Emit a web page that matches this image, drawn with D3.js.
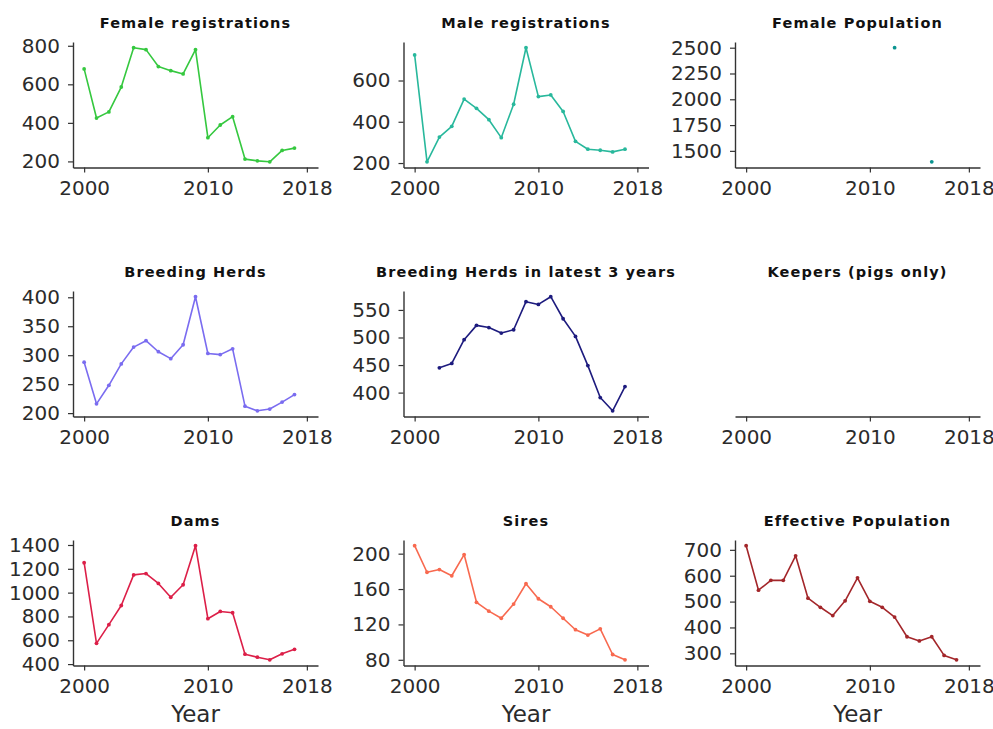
<!DOCTYPE html>
<html>
<head>
<meta charset="utf-8">
<script src="https://cdn.jsdelivr.net/npm/d3@7"></script>
<style>
  body { margin: 0; background: #fff; }
  .tick text { font-family: "DejaVu Sans", sans-serif; font-size: 20px; fill: #2b2b2b; }
  .panel-title { font-family: "DejaVu Sans", sans-serif; font-weight: bold; font-size: 14.5px; letter-spacing: 1.1px; fill: #111; }
  .x-label { font-family: "DejaVu Sans", sans-serif; font-size: 23px; fill: #2b2b2b; }
</style>
</head>
<body>
<svg id="chart" width="993" height="729"></svg>
<script>
const years = d3.range(2000, 2018);

const femaleRegistrations = [680, 425, 457, 586, 790, 780, 692, 671, 654, 780, 323, 389, 432, 212, 203, 198, 257, 269];
const maleRegistrations = [724, 206, 326, 378, 510, 465, 410, 323, 485, 759, 522, 530, 450, 305, 267, 262, 254, 267];
const femalePopulation = [null, null, null, null, null, null, null, null, null, null, null, null, 2500, null, null, 1394, null, null];
const breedingHerds = [288, 216, 248, 285, 314, 325, 306, 294, 318, 401, 303, 301, 311, 212, 204, 207, 219, 232];
const breedingHerdsLatest3 = [null, null, 445, 453, 496, 522, 518, 508, 514, 565, 560, 574, 534, 502, 449, 391, 367, 411];
const keepers = years.map(() => null);
const dams = [1251, 574, 731, 892, 1149, 1160, 1077, 961, 1066, 1394, 781, 842, 831, 483, 458, 436, 486, 524];
const sires = [209, 179, 182, 175, 199, 145, 135, 127, 143, 166, 149, 140, 127, 114, 108, 115, 86, 80];
const effectivePopulation = [716, 544, 582, 582, 677, 513, 478, 446, 503, 592, 501, 478, 440, 364, 348, 364, 292, 275];

const xTicks = [2000, 2010, 2018];

const panels = [
  { title: 'Female registrations', values: femaleRegistrations, color: '#35c83f', yTicks: [200, 400, 600, 800] },
  { title: 'Male registrations', values: maleRegistrations, color: '#28b89c', yTicks: [200, 400, 600] },
  { title: 'Female Population', values: femalePopulation, color: '#0a9490', yTicks: [1500, 1750, 2000, 2250, 2500] },
  { title: 'Breeding Herds', values: breedingHerds, color: '#7a6cf0', yTicks: [200, 250, 300, 350, 400] },
  { title: 'Breeding Herds in latest 3 years', values: breedingHerdsLatest3, color: '#1d1b7e', yTicks: [400, 450, 500, 550] },
  { title: 'Keepers (pigs only)', values: keepers, color: '#444', yTicks: [] },
  { title: 'Dams', values: dams, color: '#dc1f48', yTicks: [400, 600, 800, 1000, 1200, 1400] },
  { title: 'Sires', values: sires, color: '#f8694f', yTicks: [80, 120, 160, 200] },
  { title: 'Effective Population', values: effectivePopulation, color: '#a3262a', yTicks: [300, 400, 500, 600, 700] },
];

const layout = {
  lefts: [73, 403.5, 735],
  tops: [42, 291, 540],
  width: 245,
  height: 125.5,
};

const svg = d3.select('#chart');

// matplotlib-style 5% padding around the data extent
function padded(extent) {
  const pad = (extent[1] - extent[0]) * 0.05;
  return [extent[0] - pad, extent[1] + pad];
}

const x = d3.scaleLinear()
  .domain(padded([2000, 2018]))
  .range([0, layout.width]);

panels.forEach((p, i) => {
  const col = i % 3;
  const row = Math.floor(i / 3);
  const g = svg.append('g')
    .attr('transform', `translate(${layout.lefts[col]},${layout.tops[row]})`);

  // title centred over the axes
  g.append('text')
    .attr('class', 'panel-title')
    .attr('x', layout.width / 2)
    .attr('y', -14)
    .attr('text-anchor', 'middle')
    .text(p.title);

  const series = years.map((yr, k) => ({ yr, v: p.values[k] }));
  const pts = series.filter(d => d.v != null);

  // bottom axis (every panel has one)
  const xAxis = g.append('g')
    .attr('transform', `translate(0,${layout.height})`)
    .call(d3.axisBottom(x).tickValues(xTicks).tickFormat(d3.format('d')).tickSize(5).tickPadding(8).tickSizeOuter(0));
  xAxis.select('.domain').attr('stroke', '#333').attr('stroke-width', 1.4);
  xAxis.selectAll('.tick line').attr('stroke', '#333').attr('stroke-width', 1.2);

  // no data -> no left spine (Keepers)
  if (!pts.length) return;

  const y = d3.scaleLinear()
    .domain(padded(d3.extent(pts, d => d.v)))
    .range([layout.height, 0]);

  const yAxis = g.append('g')
    .call(d3.axisLeft(y).tickValues(p.yTicks).tickFormat(d3.format('d')).tickSize(5).tickPadding(8).tickSizeOuter(0));
  yAxis.select('.domain').attr('stroke', '#333').attr('stroke-width', 1.4);
  yAxis.selectAll('.tick line').attr('stroke', '#333').attr('stroke-width', 1.2);

  const line = d3.line()
    .defined(d => d.v != null)
    .x(d => x(d.yr))
    .y(d => y(d.v));

  g.append('path')
    .datum(series)
    .attr('fill', 'none')
    .attr('stroke', p.color)
    .attr('stroke-width', 1.6)
    .attr('stroke-linejoin', 'round')
    .attr('d', line);

  g.selectAll('circle')
    .data(pts)
    .join('circle')
    .attr('cx', d => x(d.yr))
    .attr('cy', d => y(d.v))
    .attr('r', 1.9)
    .attr('fill', p.color);
});

// x label under each bottom-row panel
layout.lefts.forEach(left => {
  svg.append('text')
    .attr('class', 'x-label')
    .attr('x', left + layout.width / 2)
    .attr('y', 722)
    .attr('text-anchor', 'middle')
    .text('Year');
});
</script>
</body>
</html>
